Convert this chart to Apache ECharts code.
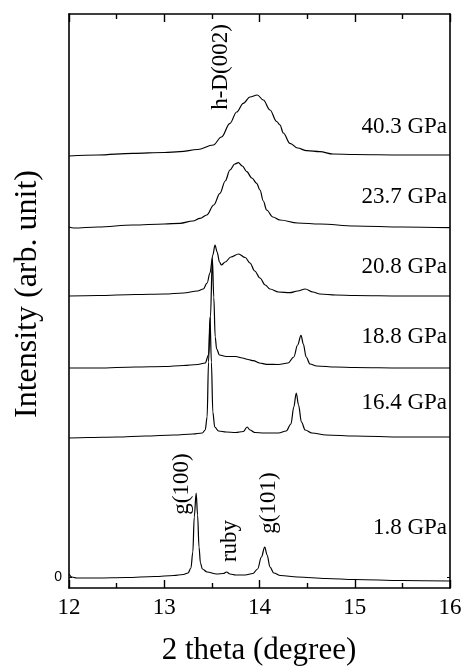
<!DOCTYPE html>
<html>
<head>
<meta charset="utf-8">
<script src="https://cdn.jsdelivr.net/npm/echarts@6/dist/echarts.min.js"></script>
<style>html,body{margin:0;padding:0;background:#fff;}#c{width:465px;height:668px;}</style>
</head>
<body>
<div id="c"></div>
<script>
// ---- data (2 theta in degree, intensity in arb. unit, spectra already offset) ----
const xTicks = [12, 13, 14, 15, 16];
const yTickLabels = [0];
const pressures = ['1.8 GPa', '16.4 GPa', '18.8 GPa', '20.8 GPa', '23.7 GPa', '40.3 GPa'];

const s1_8 = [[12.00,3],[12.03,0],[12.08,-1],[12.3,-1],[12.6,-0.5],[12.9,0.5],[13.1,1.5],[13.2,2.5],[13.25,4],[13.28,9],[13.30,25],[13.315,60],[13.335,84],[13.35,62],[13.365,30],[13.38,14],[13.40,8],[13.45,5],[13.55,3],[13.62,3.5],[13.655,5],[13.69,3],[13.75,2],[13.85,2],[13.93,3.5],[13.98,8],[14.02,20],[14.055,30],[14.08,22],[14.11,10],[14.15,4],[14.22,1.5],[14.4,0],[14.7,-1.5],[15.0,-2.5],[15.5,-3.5],[16.0,-4]];

const s16_4 = [[12.0,139],[12.2,139.5],[12.5,140],[12.8,141],[13.1,142],[13.3,143],[13.40,144],[13.43,147],[13.45,160],[13.465,215],[13.48,260],[13.495,215],[13.51,165],[13.53,150],[13.57,146],[13.65,145],[13.75,144.5],[13.83,145.5],[13.87,150],[13.9,147],[13.95,144.5],[14.05,144],[14.2,144],[14.28,146],[14.33,153],[14.36,170],[14.386,184],[14.41,172],[14.44,155],[14.48,147],[14.55,144],[14.7,142],[15.0,141],[15.5,140],[16.0,140]];

const s18_8 = [[12.0,209],[12.3,209],[12.7,210],[13.0,210.5],[13.2,211.5],[13.35,212.5],[13.43,214],[13.465,222],[13.485,260],[13.505,318.7],[13.52,280],[13.535,240],[13.55,228],[13.58,222],[13.65,220.5],[13.75,220.5],[13.82,219],[13.88,217.5],[13.935,216.3],[14.0,214],[14.075,212.7],[14.2,212.5],[14.3,214],[14.36,220],[14.40,232],[14.436,241.7],[14.46,233],[14.49,220],[14.53,213],[14.6,211],[14.8,210],[15.0,209.5],[15.5,209],[16.0,209]];

const s20_8 = [[12.0,281],[12.3,281.5],[12.7,282.5],[13.0,283],[13.2,284],[13.35,286],[13.41,288],[13.45,294],[13.48,304],[13.51,322],[13.533,332],[13.555,325],[13.58,315],[13.60,312],[13.64,315],[13.70,320],[13.78,323],[13.85,319.5],[13.90,314],[13.95,306],[14.005,299],[14.06,292],[14.11,288],[14.2,285],[14.32,284.3],[14.40,286],[14.48,288],[14.56,285],[14.635,283],[14.8,282],[15.0,281.5],[15.5,281],[16.0,281]];

const s23_7 = [[12.0,350],[12.05,349],[12.3,350],[12.67,352],[13.0,353],[13.165,353.7],[13.3,356],[13.375,358.7],[13.446,362],[13.52,372],[13.585,383.7],[13.64,396],[13.69,407],[13.74,413],[13.778,414.3],[13.82,411],[13.866,405.3],[13.92,399],[13.97,393.7],[14.005,387],[14.04,376],[14.075,367],[14.14,360],[14.215,357],[14.4,354],[14.635,353],[15.0,351],[15.5,350],[16.0,349.3]];

const s40_3 = [[12.0,421],[12.3,422],[12.67,423.7],[13.0,424.5],[13.165,425.3],[13.35,427.5],[13.515,432],[13.6,440],[13.69,453.7],[13.76,465],[13.83,473.7],[13.9,480],[13.977,482],[14.04,477],[14.11,467],[14.18,455.5],[14.215,452],[14.25,444],[14.32,433.7],[14.4,429],[14.495,426.3],[14.635,425.3],[14.77,423],[15.0,422.5],[15.5,422],[16.0,422]];

const spectra = [s1_8, s16_4, s18_8, s20_8, s23_7, s40_3];

// ---- chart ----
const serif = 'Liberation Serif';
const chart = echarts.init(document.getElementById('c'), null, {renderer: 'canvas'});

const axisLine = {show: true, onZero: false, lineStyle: {color: '#000', width: 1.6}};
const xAxisCommon = {
  type: 'value', min: 12, max: 16, interval: 1,
  axisLine: axisLine,
  axisTick: {show: true, inside: true, length: 8, lineStyle: {color: '#000', width: 1.4}},
  minorTick: {show: true, splitNumber: 2, length: 5, lineStyle: {color: '#000', width: 1.4}},
  splitLine: {show: false}, minorSplitLine: {show: false}
};

chart.setOption({
  animation: false,
  backgroundColor: '#fff',
  grid: {left: 69, right: 15, top: 14, bottom: 80, containLabel: false},
  xAxis: [
    Object.assign({}, xAxisCommon, {
      position: 'bottom',
      axisLabel: {show: true, color: '#000', fontFamily: serif, fontSize: 23, margin: 8,
        customValues: xTicks}
    }),
    Object.assign({}, xAxisCommon, {position: 'top', axisLabel: {show: false}})
  ],
  yAxis: [
    {type: 'value', min: -11, max: 563, position: 'left',
     axisLine: axisLine,
     axisTick: {show: true, inside: true, length: 3, customValues: yTickLabels, lineStyle: {color: '#000'}},
     axisLabel: {show: true, customValues: yTickLabels, color: '#000', fontFamily: 'Liberation Sans', fontSize: 14, margin: 7},
     splitLine: {show: false}},
    {type: 'value', min: -11, max: 563, position: 'right',
     axisLine: axisLine,
     axisTick: {show: true, inside: true, length: 3, customValues: yTickLabels, lineStyle: {color: '#000'}},
     axisLabel: {show: false}, splitLine: {show: false}}
  ],
  series: spectra.map((d, i) => ({
    name: pressures[i], type: 'line', data: d, xAxisIndex: 0, yAxisIndex: 0,
    showSymbol: false, symbol: 'none', smooth: 0.35, smoothMonotone: 'x',
    lineStyle: {color: '#000', width: 1.2}, z: 3
  })),
  graphic: [
    // y axis title
    {type: 'text', x: 28, y: 294, rotation: Math.PI / 2,
     style: {text: 'Intensity (arb. unit)', font: '32px "Liberation Serif"', fill: '#000', align: 'center', verticalAlign: 'middle'}},
    // x axis title
    {type: 'text', x: 259, y: 651,
     style: {text: '2 theta (degree)', font: '31px "Liberation Serif"', fill: '#000', align: 'center', verticalAlign: 'middle'}},
    // pressure labels
    {type: 'text', x: 447, y: 127, style: {text: '40.3 GPa', font: '23px "Liberation Serif"', fill: '#000', align: 'right', verticalAlign: 'middle'}},
    {type: 'text', x: 447, y: 197, style: {text: '23.7 GPa', font: '23px "Liberation Serif"', fill: '#000', align: 'right', verticalAlign: 'middle'}},
    {type: 'text', x: 447, y: 267, style: {text: '20.8 GPa', font: '23px "Liberation Serif"', fill: '#000', align: 'right', verticalAlign: 'middle'}},
    {type: 'text', x: 447, y: 337, style: {text: '18.8 GPa', font: '23px "Liberation Serif"', fill: '#000', align: 'right', verticalAlign: 'middle'}},
    {type: 'text', x: 447, y: 403, style: {text: '16.4 GPa', font: '23px "Liberation Serif"', fill: '#000', align: 'right', verticalAlign: 'middle'}},
    {type: 'text', x: 447, y: 528, style: {text: '1.8 GPa', font: '23px "Liberation Serif"', fill: '#000', align: 'right', verticalAlign: 'middle'}},
    // peak labels
    {type: 'text', x: 221, y: 67, rotation: Math.PI / 2, style: {text: 'h-D(002)', font: '23px "Liberation Serif"', fill: '#000', align: 'center', verticalAlign: 'middle'}},
    {type: 'text', x: 182, y: 484, rotation: Math.PI / 2, style: {text: 'g(100)', font: '23px "Liberation Serif"', fill: '#000', align: 'center', verticalAlign: 'middle'}},
    {type: 'text', x: 230, y: 541, rotation: Math.PI / 2, style: {text: 'ruby', font: '23px "Liberation Serif"', fill: '#000', align: 'center', verticalAlign: 'middle'}},
    {type: 'text', x: 269, y: 503, rotation: Math.PI / 2, style: {text: 'g(101)', font: '23px "Liberation Serif"', fill: '#000', align: 'center', verticalAlign: 'middle'}}
  ]
});
</script>
</body>
</html>
